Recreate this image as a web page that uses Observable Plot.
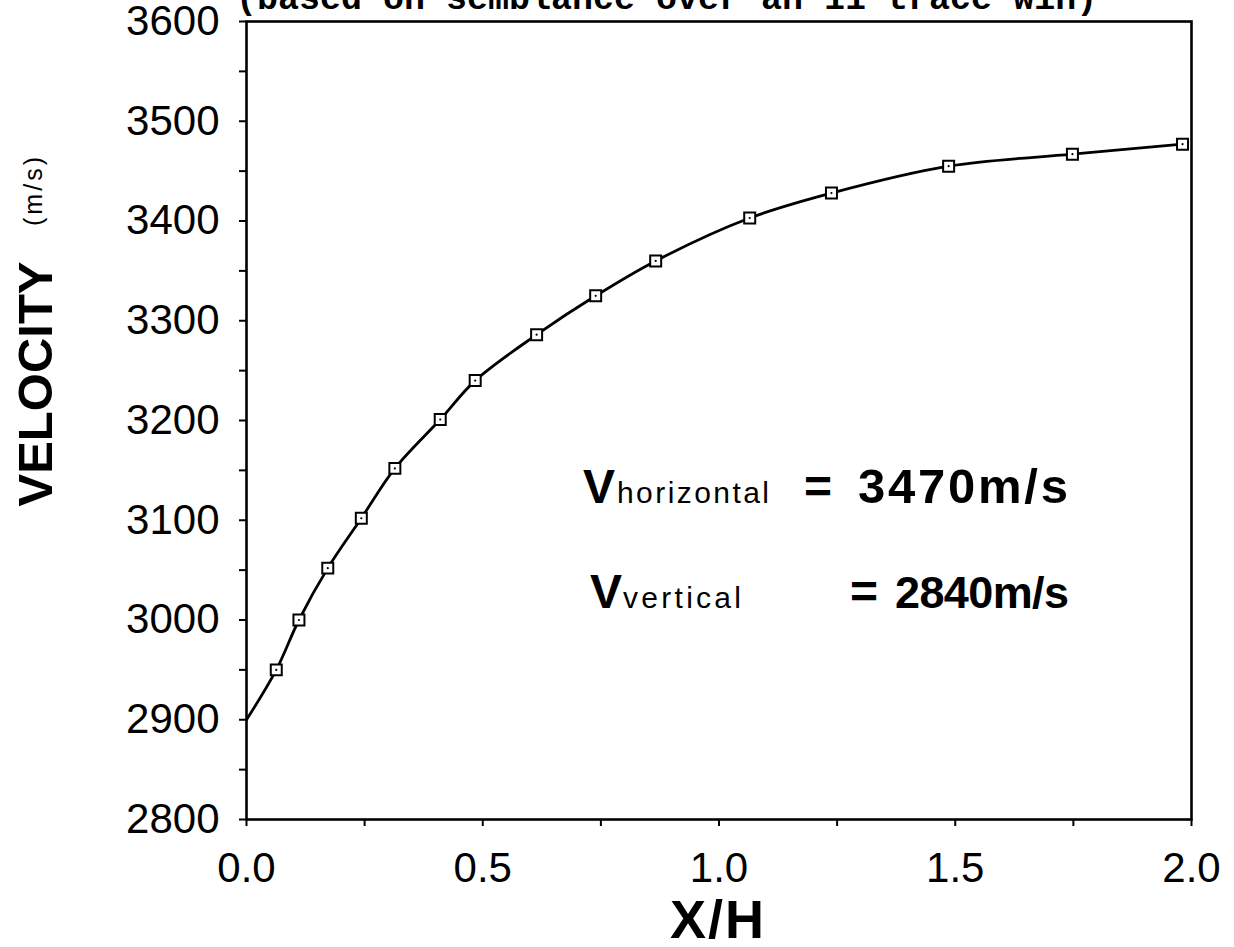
<!DOCTYPE html>
<html>
<head>
<meta charset="utf-8">
<script src="https://cdn.jsdelivr.net/npm/d3@7"></script>
<script src="https://cdn.jsdelivr.net/npm/@observablehq/plot@0.6"></script>
<style>
  html, body { margin: 0; padding: 0; background: white; }
  #chart svg { display: block; }
</style>
</head>
<body>
<div id="chart"></div>
<script>
// ---- data ----
const xOverH   = [0.063, 0.111, 0.172, 0.243, 0.314, 0.410, 0.484, 0.614, 0.739, 0.866, 1.065, 1.238, 1.486, 1.748, 1.981];
const velocity = [2950, 3000, 3052, 3102, 3152, 3201, 3240, 3286, 3325, 3360, 3403, 3428, 3455, 3467, 3477];
const curveStartX = [0.0];
const curveStartV = [2900];
const yTicks = [2800, 2850, 2900, 2950, 3000, 3050, 3100, 3150, 3200, 3250, 3300, 3350, 3400, 3450, 3500, 3550, 3600];
const yTickLabels = [2800, 2900, 3000, 3100, 3200, 3300, 3400, 3500, 3600];
const xTicks = [0, 0.25, 0.5, 0.75, 1.0, 1.25, 1.5, 1.75, 2.0];
const xTickLabels = [0, 0.5, 1.0, 1.5, 2.0];
const titleText = "(based on semblance over an 11 trace win)";
const annoH = {sym: "V", sub: "horizontal", eq: "=", val: "3470m/s"};
const annoV = {sym: "V", sub: "vertical", eq: "=", val: "2840m/s"};

const points = xOverH.map((x, i) => ({x, v: velocity[i]}));
const curve = curveStartX.map((x, i) => ({x, v: curveStartV[i]})).concat(points);

const plot = Plot.plot({
  width: 1234,
  height: 947,
  marginLeft: 246,
  marginRight: 43,
  marginTop: 21,
  marginBottom: 128,
  style: {fontFamily: "'Liberation Sans', Arial, sans-serif", background: "white", color: "black", overflow: "visible"},
  x: {domain: [0, 2]},
  y: {domain: [2800, 3600]},
  marks: [
    Plot.line(curve, {x: "x", y: "v", curve: "catmull-rom", stroke: "black", strokeWidth: 2.8}),
    Plot.dot(points, {x: "x", y: "v", symbol: "square", r: 6.2, fill: "white", stroke: "black", strokeWidth: 2}),
    Plot.dot(points, {x: "x", y: "v", r: 1.1, fill: "black"}),
    Plot.frame({stroke: "black", strokeWidth: 2.6}),
    Plot.axisY({
      ticks: yTicks, tickSize: 7, tickPadding: 20, strokeWidth: 2,
      tickFormat: d => yTickLabels.includes(d) ? String(d) : "",
      fontSize: 42, label: null
    }),
    Plot.axisX({
      ticks: xTicks, tickSize: 7, tickPadding: 26, strokeWidth: 2,
      tickFormat: d => xTickLabels.includes(d) ? d.toFixed(1) : "",
      fontSize: 42, label: null, letterSpacing: "2px"
    })
  ]
});

document.getElementById("chart").appendChild(plot);

const svg = d3.select(plot);

// clipped title at top
svg.append("text")
  .attr("x", 236).attr("y", 9)
  .attr("text-anchor", "start")
  .attr("font-family", "'Liberation Mono', 'DejaVu Sans Mono', monospace")
  .attr("font-weight", "bold")
  .attr("font-size", 35)
  .attr("fill", "black")
  .text(titleText);

// y axis label
svg.append("text")
  .attr("transform", "translate(52,384) rotate(-90)")
  .attr("text-anchor", "middle")
  .attr("font-family", "'Liberation Sans', Arial, sans-serif")
  .attr("font-weight", "bold")
  .attr("font-size", 49)
  .attr("fill", "black")
  .text("VELOCITY");
svg.append("text")
  .attr("transform", "translate(42,190) rotate(-90)")
  .attr("text-anchor", "middle")
  .attr("font-family", "'Liberation Sans', Arial, sans-serif")
  .attr("font-size", 25)
  .attr("letter-spacing", "3px")
  .attr("fill", "black")
  .text("(m/s)");

// x axis label
svg.append("text")
  .attr("x", 718).attr("y", 938)
  .attr("text-anchor", "middle")
  .attr("font-family", "'Liberation Sans', Arial, sans-serif")
  .attr("font-weight", "bold")
  .attr("font-size", 54)
  .attr("letter-spacing", "2px")
  .attr("fill", "black")
  .text("X/H");

// annotations
function anno(a, y, p) {
  const g = svg.append("g")
    .attr("font-family", "'Liberation Sans', Arial, sans-serif")
    .attr("text-anchor", "start")
    .attr("fill", "black");
  g.append("text").attr("x", p.sym).attr("y", y).attr("font-size", 48).attr("font-weight", "bold").text(a.sym);
  g.append("text").attr("x", p.sub).attr("y", y).attr("font-size", 30)
    .attr("textLength", p.subLen).attr("lengthAdjust", "spacing").text(a.sub);
  g.append("text").attr("x", p.eq).attr("y", y).attr("font-size", 48).attr("font-weight", "bold").text(a.eq);
  g.append("text").attr("x", p.val).attr("y", y).attr("font-size", p.valSize).attr("font-weight", "bold")
    .attr("textLength", p.valLen).attr("lengthAdjust", "spacing").text(a.val);
}
anno(annoH, 503, {sym: 583, sub: 617, subLen: 152, eq: 804, val: 858, valSize: 49, valLen: 210});
anno(annoV, 608, {sym: 590, sub: 623, subLen: 118, eq: 850, val: 895, valSize: 45, valLen: 174});
</script>
</body>
</html>
